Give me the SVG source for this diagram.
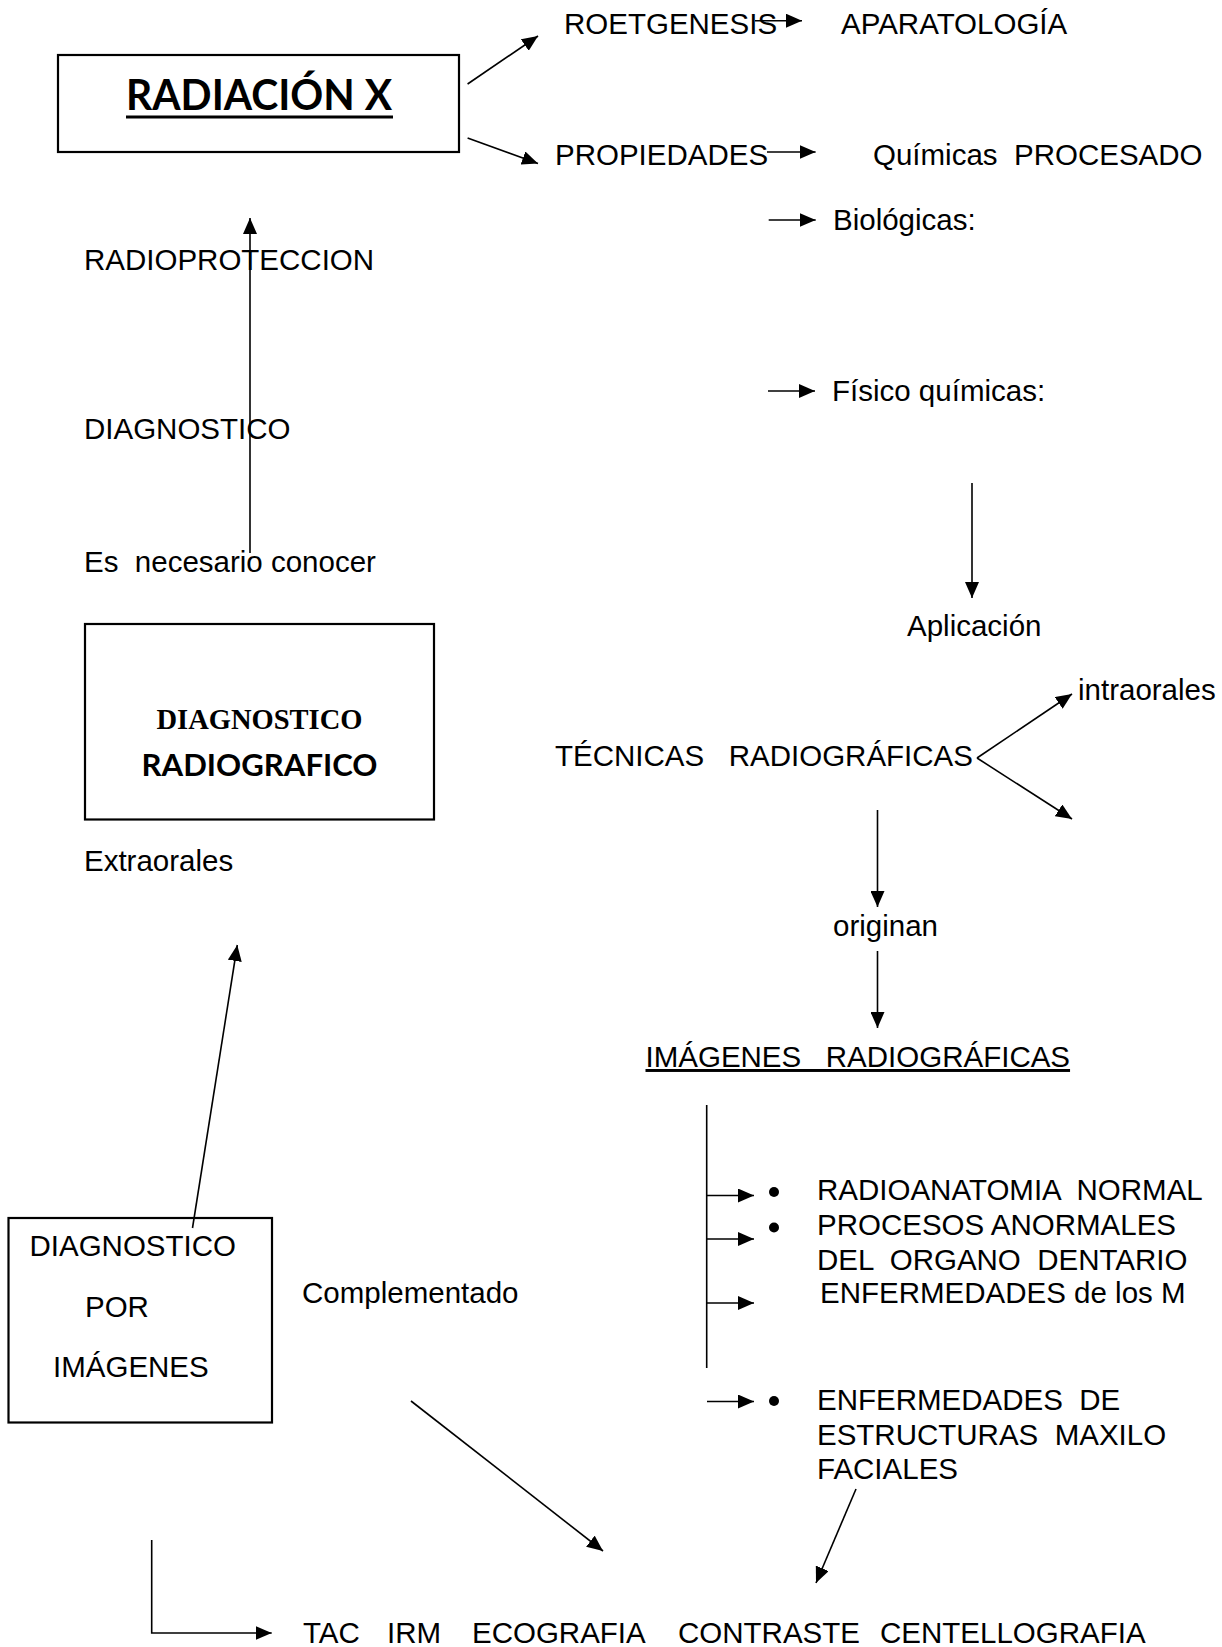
<svg xmlns="http://www.w3.org/2000/svg" width="1222" height="1647" viewBox="0 0 1222 1647">
<defs>
<marker id="ah" markerUnits="userSpaceOnUse" markerWidth="17" markerHeight="14" refX="16" refY="7" orient="auto">
<path d="M0,0 L16,7 L0,14 z" fill="#000"/>
</marker>
<style>
.t{font-family:"Liberation Sans",Arial,sans-serif;font-size:29.5px;fill:#000;white-space:pre}
.box{fill:none;stroke:#000;stroke-width:2.2}
.c{fill:none;stroke:#000;stroke-width:1.6}
.a{marker-end:url(#ah)}
</style>
</defs>
<rect width="1222" height="1647" fill="#fff"/>
<g id="radiacion">
<rect class="box" x="58" y="55" width="401" height="97"/>
<text x="126" y="110" font-family="Lato,'Liberation Sans',sans-serif" font-weight="700" font-size="42" textLength="266" lengthAdjust="spacingAndGlyphs">RADIACIÓN X</text>
<rect x="126" y="115.5" width="267" height="3" fill="#000"/>
</g>
<g id="roetgenesis"><text class="t" x="564" y="33.5">ROETGENESIS</text></g>
<g id="aparatologia"><text class="t" x="841" y="33.5">APARATOLOGÍA</text></g>
<g id="propiedades"><text class="t" x="555" y="165">PROPIEDADES</text></g>
<g id="quimicas"><text class="t" x="873" y="165" xml:space="preserve">Químicas  PROCESADO</text></g>
<g id="biologicas"><text class="t" x="833" y="230">Biológicas:</text></g>
<g id="fisicoquimicas"><text class="t" x="832" y="401">Físico químicas:</text></g>
<g id="radioproteccion"><text class="t" x="84" y="270">RADIOPROTECCION</text></g>
<g id="diagnostico"><text class="t" x="84" y="439">DIAGNOSTICO</text></g>
<g id="necesario"><text class="t" x="84" y="572" xml:space="preserve">Es  necesario conocer</text></g>
<g id="diagradiografico">
<rect class="box" x="85" y="624" width="349" height="195.5"/>
<text x="259.5" y="729" text-anchor="middle" font-family="'Liberation Serif',serif" font-weight="700" font-size="29" textLength="206" lengthAdjust="spacingAndGlyphs">DIAGNOSTICO</text>
<text x="259.5" y="776" text-anchor="middle" font-family="Lato,'Liberation Sans',sans-serif" font-weight="700" font-size="31" textLength="236" lengthAdjust="spacingAndGlyphs">RADIOGRAFICO</text>
</g>
<g id="extraorales"><text class="t" x="84" y="871">Extraorales</text></g>
<g id="aplicacion"><text class="t" x="907" y="636">Aplicación</text></g>
<g id="intraorales"><text class="t" x="1078" y="700">intraorales</text></g>
<g id="tecnicas"><text class="t" x="555" y="766" xml:space="preserve">TÉCNICAS   RADIOGRÁFICAS</text></g>
<g id="originan"><text class="t" x="833" y="936">originan</text></g>
<g id="imagenes"><text class="t" x="645.5" y="1067" text-decoration="underline" xml:space="preserve">IMÁGENES   RADIOGRÁFICAS</text></g>
<g id="lista1">
<circle cx="774" cy="1192" r="5"/>
<circle cx="774" cy="1227.5" r="5"/>
<text class="t" x="817" y="1200" xml:space="preserve">RADIOANATOMIA  NORMAL</text>
<text class="t" x="817" y="1235">PROCESOS ANORMALES</text>
<text class="t" x="817" y="1269.5" xml:space="preserve">DEL  ORGANO  DENTARIO</text>
<text class="t" x="820" y="1303">ENFERMEDADES de los M</text>
</g>
<g id="lista2">
<circle cx="774" cy="1401" r="5"/>
<text class="t" x="817" y="1410" xml:space="preserve">ENFERMEDADES  DE</text>
<text class="t" x="817" y="1445" xml:space="preserve">ESTRUCTURAS  MAXILO</text>
<text class="t" x="817" y="1479">FACIALES</text>
</g>
<g id="diagimagenes">
<rect class="box" x="8.5" y="1218" width="263.5" height="204.5"/>
<text class="t" x="29.5" y="1256">DIAGNOSTICO</text>
<text class="t" x="85" y="1317">POR</text>
<text class="t" x="53" y="1377">IMÁGENES</text>
</g>
<g id="complementado"><text class="t" x="302" y="1303">Complementado</text></g>
<g id="metodos"><text class="t" y="1643"><tspan x="303">TAC</tspan><tspan x="387">IRM</tspan><tspan x="472">ECOGRAFIA</tspan><tspan x="678">CONTRASTE</tspan><tspan x="880">CENTELLOGRAFIA</tspan></text></g>
<g id="connectors">
<line class="c a" x1="467.6" y1="84" x2="538" y2="36"/>
<line class="c a" x1="467.6" y1="138" x2="538" y2="163.5"/>
<line class="c a" x1="755" y1="20.7" x2="802" y2="20.7"/>
<line class="c a" x1="767" y1="152" x2="815.6" y2="152"/>
<line class="c a" x1="768.7" y1="220" x2="815.7" y2="220"/>
<line class="c a" x1="768" y1="391" x2="815" y2="391"/>
<line class="c a" x1="250" y1="553" x2="250" y2="218"/>
<line class="c a" x1="972" y1="483" x2="972" y2="598"/>
<line class="c a" x1="977" y1="758" x2="1072" y2="694"/>
<line class="c a" x1="977" y1="758" x2="1072" y2="819"/>
<line class="c a" x1="877.5" y1="810" x2="877.5" y2="907"/>
<line class="c a" x1="877.5" y1="951" x2="877.5" y2="1028"/>
<line class="c" x1="706.7" y1="1105" x2="706.7" y2="1368"/>
<line class="c a" x1="706.7" y1="1195.5" x2="754" y2="1195.5"/>
<line class="c a" x1="706.7" y1="1239" x2="754" y2="1239"/>
<line class="c a" x1="706.7" y1="1303" x2="754" y2="1303"/>
<line class="c a" x1="707" y1="1401.5" x2="754" y2="1401.5"/>
<line class="c a" x1="856" y1="1489" x2="816" y2="1583"/>
<line class="c a" x1="411" y1="1401" x2="603" y2="1551"/>
<line class="c a" x1="192.5" y1="1228" x2="237.3" y2="945"/>
<polyline class="c a" points="151.7,1540 151.7,1633 271.7,1633"/>
</g>
</svg>
